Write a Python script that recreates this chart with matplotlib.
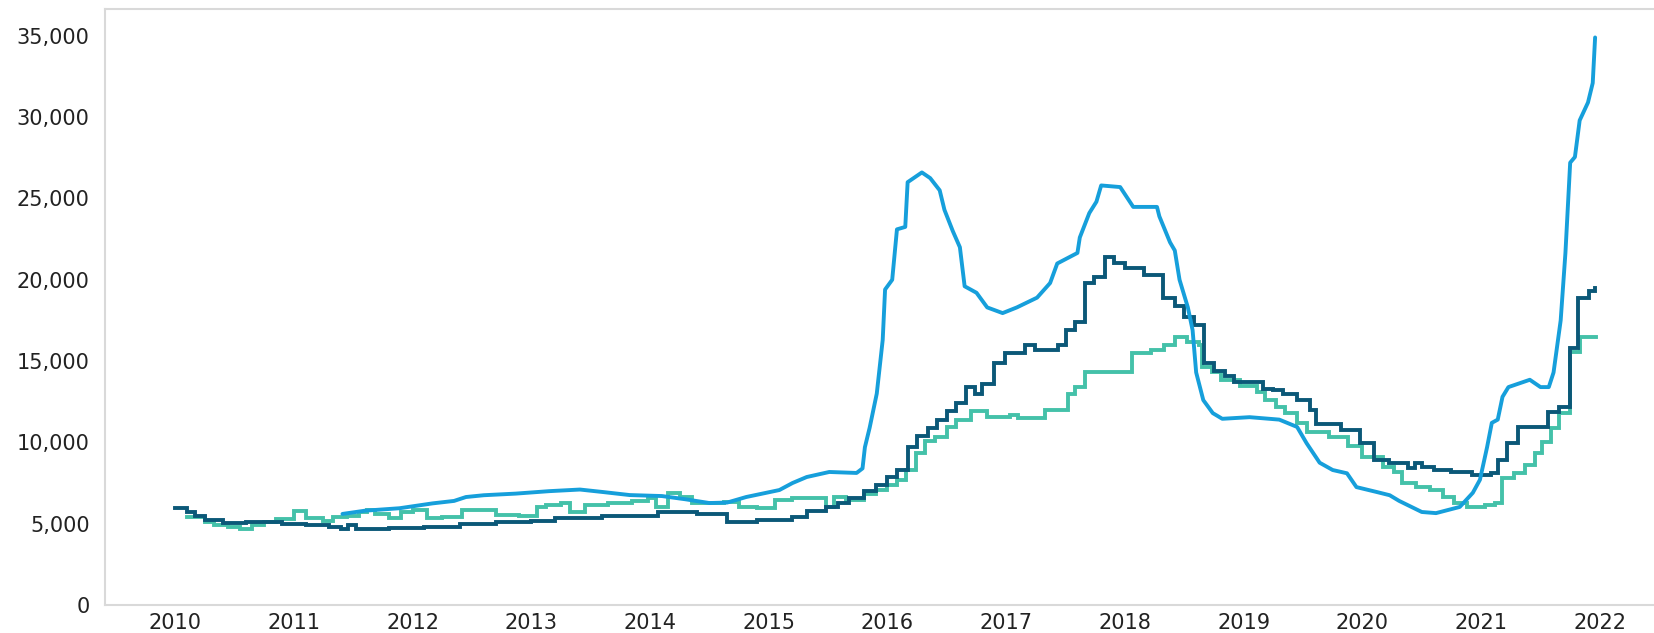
import matplotlib
matplotlib.use("Agg")
import matplotlib.pyplot as plt
from matplotlib.ticker import FuncFormatter
import numpy as np

# --- data (decimal year, value) ---
blue_x = [2011.41, 2011.60, 2011.89, 2012.17, 2012.35, 2012.45, 2012.60, 2012.87, 2013.15, 2013.41,
          2013.60, 2013.83, 2014.10, 2014.30, 2014.50, 2014.65, 2014.81, 2015.09, 2015.20, 2015.32,
          2015.51, 2015.74, 2015.79, 2015.81, 2015.85, 2015.91, 2015.96, 2015.98, 2016.04, 2016.08,
          2016.15, 2016.17, 2016.29, 2016.36, 2016.44, 2016.48, 2016.55, 2016.61, 2016.65, 2016.75,
          2016.84, 2016.97, 2017.09, 2017.26, 2017.37, 2017.43, 2017.60, 2017.62, 2017.70, 2017.76,
          2017.80, 2017.96, 2018.07, 2018.27, 2018.29, 2018.38, 2018.42, 2018.46, 2018.53, 2018.57,
          2018.60, 2018.66, 2018.74, 2018.82, 2019.05, 2019.30, 2019.45, 2019.53, 2019.64, 2019.75,
          2019.87, 2019.95, 2020.12, 2020.23, 2020.31, 2020.50, 2020.62, 2020.82, 2020.93, 2020.99,
          2021.05, 2021.09, 2021.14, 2021.18, 2021.23, 2021.41, 2021.50, 2021.57, 2021.61, 2021.67,
          2021.71, 2021.75, 2021.79, 2021.83, 2021.90, 2021.94, 2021.96]
blue_y = [5600, 5800, 5950, 6250, 6400, 6640, 6750, 6850, 7000, 7100,
          6950, 6760, 6700, 6500, 6270, 6300, 6640, 7070, 7500, 7870,
          8180, 8120, 8400, 9700, 10900, 13000, 16300, 19400, 20000, 23100,
          23250, 26000, 26600, 26250, 25500, 24300, 23000, 22000, 19600, 19200,
          18300, 17950, 18300, 18900, 19800, 21000, 21650, 22600, 24100, 24800,
          25800, 25700, 24480, 24480, 23900, 22300, 21800, 20000, 18300, 16900,
          14300, 12600, 11800, 11450, 11550, 11400, 10950, 9950, 8750, 8300,
          8100, 7250, 6950, 6750, 6400, 5720, 5650, 6030, 6900, 7700,
          9700, 11200, 11400, 12800, 13400, 13850, 13400, 13400, 14300, 17500,
          21650, 27200, 27550, 29800, 30900, 32100, 34900]

dark_x = [2010.00, 2010.10, 2010.17, 2010.25, 2010.40, 2010.60, 2010.90, 2011.10, 2011.30, 2011.40,
          2011.46, 2011.52, 2011.80, 2012.10, 2012.40, 2012.70, 2013.00, 2013.20, 2013.60, 2014.07,
          2014.40, 2014.65, 2014.90, 2015.20, 2015.32, 2015.48, 2015.58, 2015.68, 2015.80, 2015.90,
          2016.00, 2016.08, 2016.17, 2016.25, 2016.34, 2016.42, 2016.50, 2016.58, 2016.66, 2016.74,
          2016.80, 2016.90, 2016.99, 2017.16, 2017.24, 2017.44, 2017.50, 2017.58, 2017.66, 2017.74,
          2017.83, 2017.91, 2018.00, 2018.16, 2018.32, 2018.42, 2018.50, 2018.58, 2018.67, 2018.75,
          2018.84, 2018.92, 2019.16, 2019.25, 2019.33, 2019.45, 2019.56, 2019.61, 2019.82, 2019.98,
          2020.10, 2020.22, 2020.38, 2020.44, 2020.50, 2020.60, 2020.75, 2020.92, 2021.08, 2021.14,
          2021.22, 2021.31, 2021.56, 2021.66, 2021.75, 2021.82, 2021.91, 2021.96]
dark_y = [5950, 5700, 5450, 5200, 5050, 5100, 5000, 4900, 4800, 4700,
          4900, 4700, 4750, 4800, 5000, 5100, 5150, 5350, 5450, 5700,
          5600, 5100, 5250, 5400, 5750, 6000, 6300, 6600, 7000, 7400,
          7900, 8300, 9700, 10400, 10900, 11400, 11900, 12400, 13400, 13000,
          13600, 14900, 15500, 16000, 15700, 16000, 16900, 17400, 19800, 20200,
          21400, 21000, 20700, 20300, 18900, 18400, 17700, 17200, 14900, 14400,
          14100, 13700, 13300, 13200, 13000, 12600, 12000, 11100, 10750, 9950,
          8900, 8750, 8450, 8750, 8500, 8300, 8200, 8000, 8100, 8900,
          9950, 10950, 11850, 12200, 15800, 18900, 19300, 19500]

green_x = [2010.10, 2010.25, 2010.33, 2010.45, 2010.55, 2010.65, 2010.75, 2010.85, 2011.00, 2011.10,
           2011.25, 2011.33, 2011.45, 2011.55, 2011.62, 2011.68, 2011.80, 2011.90, 2012.00, 2012.12,
           2012.25, 2012.42, 2012.70, 2012.90, 2013.05, 2013.12, 2013.25, 2013.33, 2013.45, 2013.65,
           2013.85, 2013.98, 2014.05, 2014.15, 2014.25, 2014.35, 2014.62, 2014.75, 2014.90, 2015.05,
           2015.20, 2015.48, 2015.55, 2015.65, 2015.80, 2015.90, 2016.00, 2016.08, 2016.16, 2016.24,
           2016.32, 2016.40, 2016.50, 2016.58, 2016.70, 2016.84, 2017.03, 2017.10, 2017.33, 2017.52,
           2017.58, 2017.66, 2018.06, 2018.22, 2018.33, 2018.42, 2018.52, 2018.62, 2018.65, 2018.73,
           2018.81, 2018.97, 2019.11, 2019.18, 2019.27, 2019.35, 2019.45, 2019.53, 2019.72, 2019.88,
           2020.00, 2020.17, 2020.27, 2020.33, 2020.45, 2020.57, 2020.68, 2020.77, 2020.88, 2021.03,
           2021.12, 2021.18, 2021.28, 2021.37, 2021.45, 2021.51, 2021.59, 2021.66, 2021.75, 2021.83,
           2021.97]
green_y = [5400, 5100, 4900, 4800, 4700, 4900, 5100, 5300, 5750, 5350,
           5150, 5400, 5500, 5700, 5850, 5600, 5350, 5700, 5850, 5350,
           5400, 5850, 5550, 5450, 6050, 6150, 6250, 5700, 6150, 6250,
           6400, 6550, 6050, 6900, 6650, 6250, 6350, 6050, 5950, 6450,
           6600, 6050, 6650, 6450, 6800, 7100, 7400, 7700, 8300, 9350,
           10100, 10350, 10950, 11400, 11900, 11550, 11700, 11500, 12000, 13000,
           13400, 14300, 15500, 15700, 16000, 16450, 16150, 16000, 14650, 14300,
           13850, 13450, 13100, 12600, 12200, 11800, 11200, 10650, 10350, 9750,
           9100, 8500, 8150, 7500, 7250, 7050, 6650, 6300, 6050, 6150,
           6300, 7800, 8100, 8600, 9350, 10000, 10900, 11800, 15550, 16450,
           16450]

year_ticks = list(range(2010, 2023))
value_ticks = list(range(0, 35001, 5000))

c_blue = "#169fdb"
c_dark = "#0b5878"
c_green = "#44c1a9"

fig = plt.figure(figsize=(16.54, 6.33), dpi=100)
ax = fig.add_axes([105 / 1654, 28 / 633, 1 - 105 / 1654, 596 / 633])

lw = 2.8
ax.plot(green_x, green_y, color=c_green, lw=lw, drawstyle="steps-post", solid_joinstyle="miter", zorder=2)
ax.plot(dark_x, dark_y, color=c_dark, lw=lw, drawstyle="steps-post", solid_joinstyle="miter", zorder=3)
ax.plot(blue_x, blue_y, color=c_blue, lw=lw, solid_capstyle="round", zorder=4)

ax.set_xlim(2009.41, 2022.456)
ax.set_ylim(0, 36650)
ax.set_xticks(year_ticks)
ax.set_yticks(value_ticks)
ax.yaxis.set_major_formatter(FuncFormatter(lambda v, p: f"{int(v):,}"))

for lab in ax.get_xticklabels() + ax.get_yticklabels():
    lab.set_fontfamily("DejaVu Sans")
    lab.set_fontsize(15)
    lab.set_color("#222222")
ax.tick_params(axis="both", length=0)
ax.tick_params(axis="y", pad=11)
ax.tick_params(axis="x", pad=6)

for s in ["left", "top", "bottom"]:
    ax.spines[s].set_color("#d9d9d9")
    ax.spines[s].set_linewidth(1.5)
ax.spines["right"].set_visible(False)

fig.savefig("out.png", dpi=100)
